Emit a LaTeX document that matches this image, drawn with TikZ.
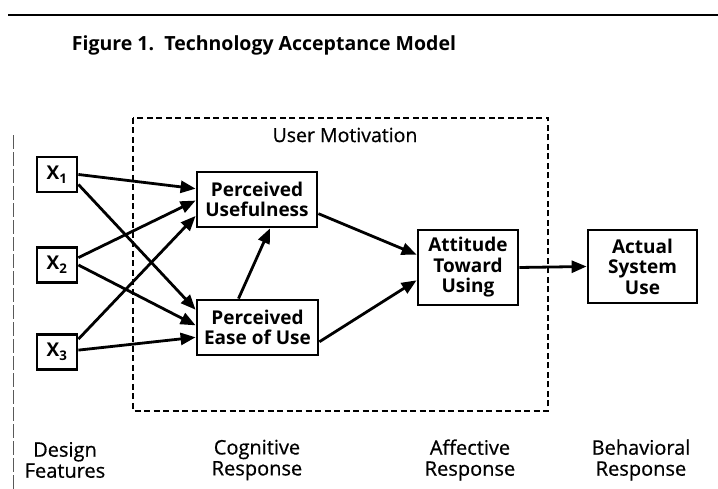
\documentclass[tikz,border=0pt]{standalone}
\usepackage{fontspec}
\setmainfont{Open Sans}
\newfontfamily\medfont{Open Sans}[FakeBold=0.6]
\usetikzlibrary{arrows.meta, positioning}

\begin{document}
\begin{tikzpicture}[x=1pt, y=1pt,
    box/.style={draw, line width=2.8pt, align=center, inner sep=0pt,
      font=\bfseries\fontsize{19}{20.5}\selectfont},
    link/.style={-{Triangle[length=15pt,width=12pt]}, line width=2.8pt},
    lbl/.style={align=center, font=\medfont\fontsize{20}{21}\selectfont}]
    \useasboundingbox (0,0) rectangle (718,489);

    % page rule and margin
    \draw[line width=1.8pt] (8,474) -- (718,474);
    \draw[gray!70!black, line width=0.8pt, dash pattern=on 14pt off 3pt] (13,0) -- (13,355);

    % title
    \node[font=\bfseries\fontsize{19.5}{21}\selectfont] (title) at (264,444)
        {Figure 1.\ \ Technology Acceptance Model};

    % user motivation frame
    \draw[line width=1.5pt, dash pattern=on 6pt off 3.5pt] (133,371) rectangle (548,78);
    \node[font=\medfont\fontsize{19.5}{21}\selectfont] (motiv) at (345,354) {User Motivation};

    % design features
    \node[box, minimum width=40, minimum height=35] (x1) at (57,314.5) {X\textsubscript{1}};
    \node[box, minimum width=40, minimum height=35] (x2) at (57,224) {X\textsubscript{2}};
    \node[box, minimum width=40, minimum height=35] (x3) at (57,137) {X\textsubscript{3}};

    % cognitive, affective, behavioral
    \node[box, minimum width=120, minimum height=55] (pu) at (257,289.5) {Perceived\\Usefulness};
    \node[box, minimum width=121, minimum height=55] (peu) at (257.5,161.5) {Perceived\\Ease of Use};
    \node[box, minimum width=100, minimum height=75] (atu) at (468,221.5) {Attitude\\Toward\\Using};
    \node[box, minimum width=109, minimum height=73] (asu) at (642.5,222.5) {Actual\\System\\Use};

    % arrows
    \draw[link] (x1.east) -- (pu.170);
    \draw[link] (x1.-25) -- (peu.164);
    \draw[link] (x2.19) -- (pu.181);
    \draw[link] (x2.east) -- (peu.178);
    \draw[link] (x3.31) -- (pu.195);
    \draw[link] (x3.5) -- (peu.189);
    \draw[link] ([xshift=-19pt]peu.north) -- ([xshift=13pt]pu.south);
    \draw[link] (pu.-13) -- (atu.166);
    \draw[link] (peu.-13) -- (atu.194);
    \draw[link] (atu.east) -- (asu.west);

    % column labels
    \node[lbl] (design) at (65,29) {Design\\Features};
    \node[lbl] (cognitive) at (257,29) {Cognitive\\Response};
    \node[lbl] (affective) at (470,29) {Affective\\Response};
    \node[lbl] (behavioral) at (641,29) {Behavioral\\Response};
\end{tikzpicture}
\end{document}
